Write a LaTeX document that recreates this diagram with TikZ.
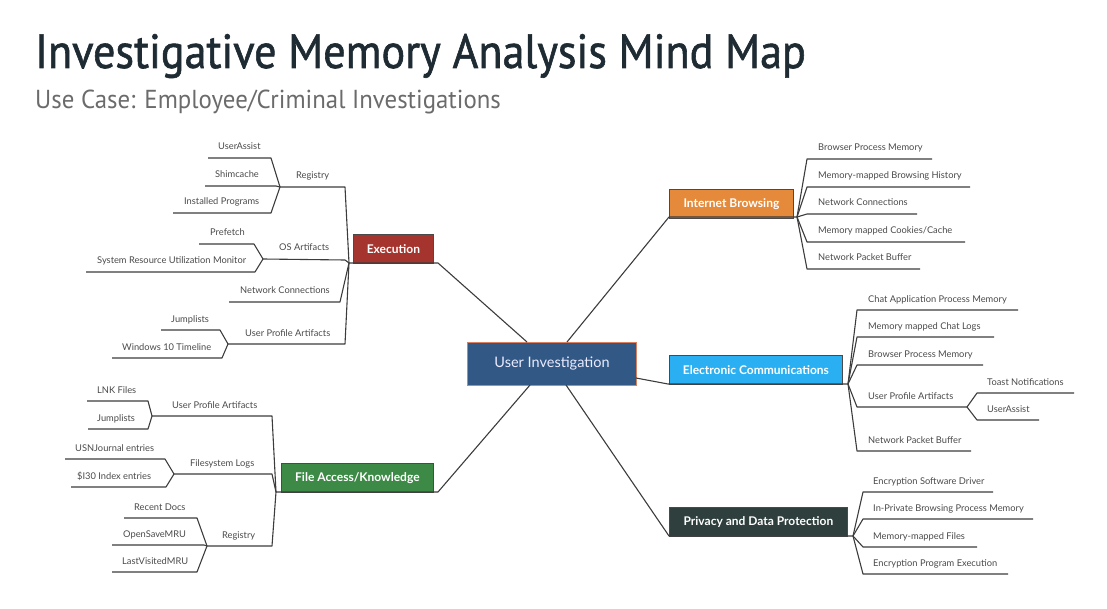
\documentclass[tikz,border=0pt]{standalone}
\usepackage{fontspec}
\setmainfont{Lato}
\newfontfamily\titlefont[FakeStretch=0.92,FakeBold=1.2]{PT Sans}
\newfontfamily\subfont[FakeStretch=0.955]{PT Sans}
\usetikzlibrary{calc}
\definecolor{titlecol}{HTML}{1E2B33}
\definecolor{subcol}{HTML}{6B6B6B}
\definecolor{leafcol}{HTML}{4A4A4A}
\definecolor{linecol}{HTML}{3C3C3C}
\definecolor{centerfill}{HTML}{325885}
\definecolor{centerborder}{HTML}{D98060}
\definecolor{execfill}{HTML}{A6342E}
\definecolor{webfill}{HTML}{E58A3A}
\definecolor{commfill}{HTML}{2AB0F2}
\definecolor{filefill}{HTML}{3C8A45}
\definecolor{privfill}{HTML}{2E3F3D}
\definecolor{boxborder}{HTML}{4A4A4A}
\tikzset{
  leaf/.style={anchor=base west, inner sep=0pt, text=leafcol, font=\fontsize{9.3}{11}\selectfont},
  link/.style={draw=linecol, line width=1.1pt, line join=round},
  topic/.style={anchor=north west, draw=boxborder, line width=0.8pt, minimum height=29pt, inner sep=0pt, text=white, font=\fontsize{12}{14}\selectfont\bfseries},
}
\begin{document}
\begin{tikzpicture}[x=1pt,y=-1pt]
\useasboundingbox (0,0) rectangle (1107,609);
% titles
\node[anchor=base west, inner sep=0pt, text=titlecol, font=\titlefont\fontsize{48}{54}\selectfont] (title) at (35,68) {Investigative Memory Analysis Mind Map};
\node[anchor=base west, inner sep=0pt, text=subcol, font=\subfont\fontsize{26}{30}\selectfont] (subtitle) at (35,109) {Use Case: Employee/Criminal Investigations};

% central and topic boxes
\node[anchor=north west, draw=centerborder, fill=centerfill, line width=1pt, minimum width=169pt, minimum height=43pt, inner sep=0pt, text=white!92!blue, font=\fontsize{14.5}{16}\selectfont] (center) at (467,342) {User Investigation};
\node[topic, fill=execfill, minimum width=80pt] (exec) at (353,234) {Execution};
\node[topic, fill=webfill, minimum width=124pt] (web) at (669,189) {Internet Browsing};
\node[topic, fill=commfill, minimum width=173pt] (comm) at (669,355) {Electronic Communications};
\node[topic, fill=filefill, minimum width=152pt] (file) at (281,463) {File Access/Knowledge};
\node[topic, fill=privfill, minimum width=178pt] (priv) at (669,507) {Privacy and Data Protection};

% hubs (topic underline ends)
\coordinate (exL) at (349,263); \coordinate (exR) at (438,263);
\coordinate (wbL) at (669,217); \coordinate (wbR) at (797,217);
\coordinate (cmL) at (668,384); \coordinate (cmR) at (848,384);
\coordinate (faL) at (276,492); \coordinate (faR) at (438,492);
\coordinate (pvL) at (669,536); \coordinate (pvR) at (853,536);
\coordinate (cTopL) at (527,342); \coordinate (cTopR) at (567,342);
\coordinate (cRight) at (636,378);
\coordinate (cBotL) at (530,385); \coordinate (cBotR) at (566,385);

\draw[link] (exL) -- (exR) -- (cTopL);
\draw[link] (cTopR) -- (wbL) -- (wbR);
\draw[link] (cRight) -- (cmL) -- (cmR);
\draw[link] (cBotL) -- (faR) -- (faL);
\draw[link] (cBotR) -- (pvL) -- (pvR);

% ---------- Execution ----------
\node[leaf] (e1) at (296,179) {Registry};
\node[leaf] (e2) at (279,251) {OS Artifacts};
\node[leaf] (e3) at (240,294) {Network Connections};
\node[leaf] (e4) at (245,336) {User Profile Artifacts};
\coordinate (e1L) at (280,187); \coordinate (e1R) at (345,187);
\coordinate (e2L) at (263,259); \coordinate (e2R) at (345,260);
\coordinate (e3L) at (229,302); \coordinate (e3R) at (340,302);
\coordinate (e4L) at (228,344); \coordinate (e4R) at (345,344);
\draw[link] (exL) -- (e1R) -- (e1L);
\draw[link] (exL) -- (e2R) -- (e2L);
\draw[link] (exL) -- (e3R) -- (e3L);
\draw[link] (exL) -- (e4R) -- (e4L);

\node[leaf] (e11) at (218,150) {UserAssist};
\node[leaf] (e12) at (215,178) {Shimcache};
\node[leaf] (e13) at (184,205) {Installed Programs};
\coordinate (e11L) at (208,158); \coordinate (e11R) at (271,158);
\coordinate (e12L) at (205,186); \coordinate (e12R) at (276,186);
\coordinate (e13L) at (173,213); \coordinate (e13R) at (271,213);
\draw[link] (e1L) -- (e11R) -- (e11L);
\draw[link] (e1L) -- (e12R) -- (e12L);
\draw[link] (e1L) -- (e13R) -- (e13L);

\node[leaf] (e21) at (210,236) {Prefetch};
\node[leaf] (e22) at (97,264) {System Resource Utilization Monitor};
\coordinate (e21L) at (199,244); \coordinate (e21R) at (254,244);
\coordinate (e22L) at (86,272); \coordinate (e22R) at (255,272);
\draw[link] (e2L) -- (e21R) -- (e21L);
\draw[link] (e2L) -- (e22R) -- (e22L);

\node[leaf] (e41) at (171,322) {Jumplists};
\node[leaf] (e42) at (122,350) {Windows 10 Timeline};
\coordinate (e41L) at (161,330); \coordinate (e41R) at (220,330);
\coordinate (e42L) at (112,358); \coordinate (e42R) at (222,358);
\draw[link] (e4L) -- (e41R) -- (e41L);
\draw[link] (e4L) -- (e42R) -- (e42L);

% ---------- File Access ----------
\node[leaf] (f1) at (172,408) {User Profile Artifacts};
\node[leaf] (f2) at (190,466) {Filesystem Logs};
\node[leaf] (f3) at (222,538) {Registry};
\coordinate (f1L) at (152,416); \coordinate (f1R) at (272,416);
\coordinate (f2L) at (174,474); \coordinate (f2R) at (272,474);
\coordinate (f3L) at (207,546); \coordinate (f3R) at (272,546);
\draw[link] (faL) -- (f1R) -- (f1L);
\draw[link] (faL) -- (f2R) -- (f2L);
\draw[link] (faL) -- (f3R) -- (f3L);

\node[leaf] (f11) at (97,393) {LNK Files};
\node[leaf] (f12) at (97,421) {Jumplists};
\coordinate (f11L) at (87,401); \coordinate (f11R) at (148,401);
\coordinate (f12L) at (88,429); \coordinate (f12R) at (148,429);
\draw[link] (f1L) -- (f11R) -- (f11L);
\draw[link] (f1L) -- (f12R) -- (f12L);

\node[leaf] (f21) at (75,451) {USNJournal entries};
\node[leaf] (f22) at (77,479) {\$I30 Index entries};
\coordinate (f21L) at (65,459); \coordinate (f21R) at (165,459);
\coordinate (f22L) at (71,487); \coordinate (f22R) at (166,487);
\draw[link] (f2L) -- (f21R) -- (f21L);
\draw[link] (f2L) -- (f22R) -- (f22L);

\node[leaf] (f31) at (134,510) {Recent Docs};
\node[leaf] (f32) at (123,537) {OpenSaveMRU};
\node[leaf] (f33) at (122,564) {LastVisitedMRU};
\coordinate (f31L) at (124,518); \coordinate (f31R) at (197,518);
\coordinate (f32L) at (112,545); \coordinate (f32R) at (204,545);
\coordinate (f33L) at (112,572); \coordinate (f33R) at (197,572);
\draw[link] (f3L) -- (f31R) -- (f31L);
\draw[link] (f3L) -- (f32R) -- (f32L);
\draw[link] (f3L) -- (f33R) -- (f33L);

% ---------- Internet Browsing ----------
\node[leaf] (w1) at (818,151) {Browser Process Memory};
\node[leaf] (w2) at (818,179) {Memory-mapped Browsing History};
\node[leaf] (w3) at (818,206) {Network Connections};
\node[leaf] (w4) at (818,234) {Memory mapped Cookies/Cache};
\node[leaf] (w5) at (818,261) {Network Packet Buffer};
\coordinate (w1L) at (807,159); \coordinate (w1R) at (932,159);
\coordinate (w2L) at (807,187); \coordinate (w2R) at (970,187);
\coordinate (w3L) at (807,214); \coordinate (w3R) at (917,214);
\coordinate (w4L) at (807,242); \coordinate (w4R) at (965,242);
\coordinate (w5L) at (807,269); \coordinate (w5R) at (920,269);
\foreach \i in {1,...,5} {\draw[link] (wbR) -- (w\i L) -- (w\i R);}

% ---------- Electronic Communications ----------
\node[leaf] (c1) at (868,302) {Chat Application Process Memory};
\node[leaf] (c2) at (868,329) {Memory mapped Chat Logs};
\node[leaf] (c3) at (868,357) {Browser Process Memory};
\node[leaf] (c4) at (868,399) {User Profile Artifacts};
\node[leaf] (c5) at (868,443) {Network Packet Buffer};
\coordinate (c1L) at (857,310); \coordinate (c1R) at (1018,310);
\coordinate (c2L) at (857,337); \coordinate (c2R) at (994,337);
\coordinate (c3L) at (857,365); \coordinate (c3R) at (983,365);
\coordinate (c4L) at (857,407); \coordinate (c4R) at (967,407);
\coordinate (c5L) at (857,451); \coordinate (c5R) at (971,451);
\foreach \i in {1,...,5} {\draw[link] (cmR) -- (c\i L) -- (c\i R);}

\node[leaf] (c41) at (987,385) {Toast Notifications};
\node[leaf] (c42) at (987,412) {UserAssist};
\coordinate (c41L) at (977,393); \coordinate (c41R) at (1074,393);
\coordinate (c42L) at (977,420); \coordinate (c42R) at (1039,420);
\draw[link] (c4R) -- (c41L) -- (c41R);
\draw[link] (c4R) -- (c42L) -- (c42R);

% ---------- Privacy ----------
\node[leaf] (p1) at (873,484) {Encryption Software Driver};
\node[leaf] (p2) at (873,511) {In-Private Browsing Process Memory};
\node[leaf] (p3) at (873,539) {Memory-mapped Files};
\node[leaf] (p4) at (873,566) {Encryption Program Execution};
\coordinate (p1L) at (863,492); \coordinate (p1R) at (993,492);
\coordinate (p2L) at (863,519); \coordinate (p2R) at (1033,519);
\coordinate (p3L) at (863,547); \coordinate (p3R) at (977,547);
\coordinate (p4L) at (863,574); \coordinate (p4R) at (1008,574);
\foreach \i in {1,...,4} {\draw[link] (pvR) -- (p\i L) -- (p\i R);}
\end{tikzpicture}
\end{document}
